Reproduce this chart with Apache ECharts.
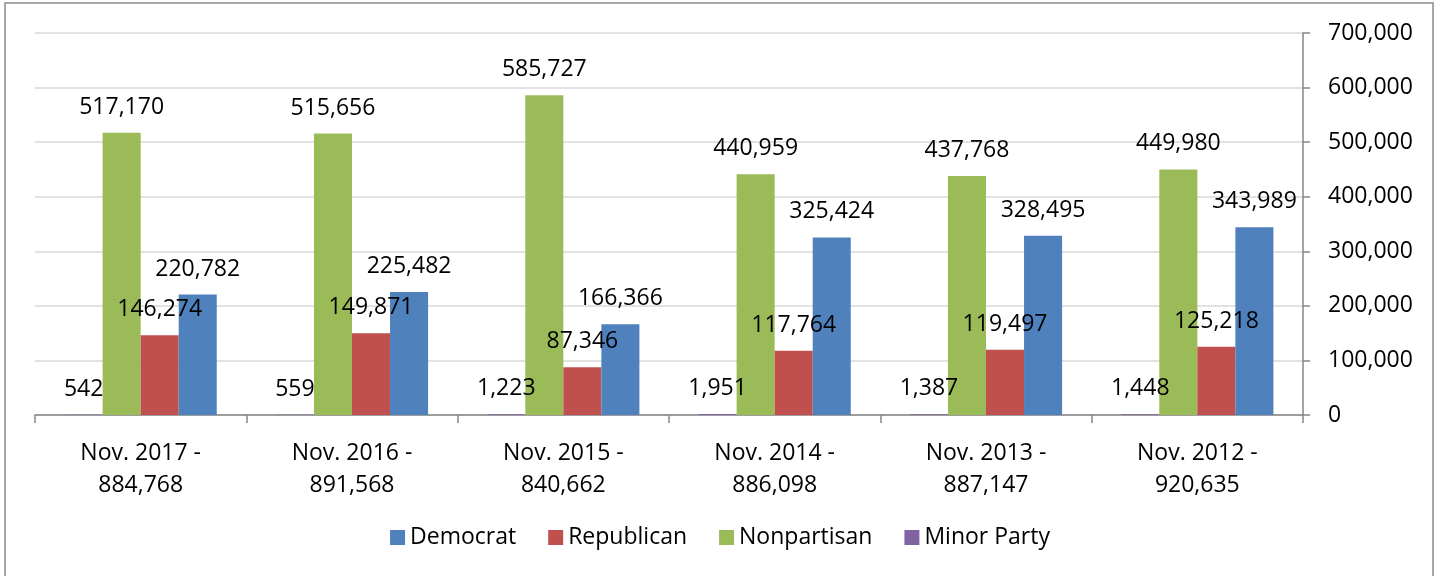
<!DOCTYPE html>
<html>
<head>
<meta charset="utf-8">
<script src="https://cdn.jsdelivr.net/npm/echarts@6/dist/echarts.min.js"></script>
<style>
  html, body { margin: 0; padding: 0; background: #fff; }
  #chart { width: 1440px; height: 576px; }
</style>
</head>
<body>
<div id="chart"></div>
<script>
// 数据
const periods = ['Nov. 2017', 'Nov. 2016', 'Nov. 2015', 'Nov. 2014', 'Nov. 2013', 'Nov. 2012']
const totals = ['884,768', '891,568', '840,662', '886,098', '887,147', '920,635']
const minorParty = [542, 559, 1223, 1951, 1387, 1448]
const nonpartisan = [517170, 515656, 585727, 440959, 437768, 449980]
const republican = [146274, 149871, 87346, 117764, 119497, 125218]
const democrat = [220782, 225482, 166366, 325424, 328495, 343989]
const yTicks = [0, 100000, 200000, 300000, 400000, 500000, 600000, 700000]

const categories = periods.map((p, i) => p + ' -\n' + totals[i])
const fmt = v => v.toLocaleString('en-US')
const font = '"Open Sans", sans-serif'

const chart = echarts.init(document.getElementById('chart'))

// 每个系列的公共配置
function bar(name, data, color) {
    return {
        name: name,
        type: 'bar',
        data: data,
        barGap: '0%',
        barCategoryGap: '28%',
        itemStyle: { color: color },
        label: {
            show: true,
            position: 'top',
            distance: 14,
            color: '#000',
            fontFamily: font,
            fontSize: 23,
            formatter: p => fmt(p.value)
        }
    }
}

chart.setOption({
    animation: false,
    textStyle: { fontFamily: font },
    grid: { left: 35, right: 137, top: 33, bottom: 161 },
    legend: {
        data: ['Democrat', 'Republican', 'Nonpartisan', 'Minor Party'],
        bottom: 22,
        left: 'center',
        itemWidth: 15,
        itemHeight: 15,
        itemGap: 32,
        icon: 'rect',
        textStyle: { fontFamily: font, fontSize: 23, color: '#000' }
    },
    xAxis: {
        type: 'category',
        data: categories,
        axisLine: { lineStyle: { color: '#868686', width: 1.5 } },
        axisTick: { show: true, length: 8, lineStyle: { color: '#868686', width: 1.5 } },
        axisLabel: {
            color: '#000',
            fontFamily: font,
            fontSize: 23,
            lineHeight: 32,
            margin: 22
        }
    },
    yAxis: {
        type: 'value',
        position: 'right',
        min: yTicks[0],
        max: yTicks[yTicks.length - 1],
        interval: yTicks[1] - yTicks[0],
        axisLine: { show: true, lineStyle: { color: '#868686', width: 1.5 } },
        axisTick: { show: true, length: 7, lineStyle: { color: '#868686', width: 1.5 } },
        splitLine: { lineStyle: { color: '#d9d9d9', width: 1.5 } },
        axisLabel: {
            color: '#000',
            fontFamily: font,
            fontSize: 23,
            margin: 25,
            formatter: v => fmt(v)
        }
    },
    graphic: [{
        type: 'rect',
        shape: { x: 5, y: 3, width: 1428, height: 620 },
        style: { fill: 'none', stroke: '#8c8c8c', lineWidth: 1.5 },
        silent: true
    }],
    series: [
        bar('Minor Party', minorParty, '#8064a2'),
        bar('Nonpartisan', nonpartisan, '#9bbb59'),
        bar('Republican', republican, '#c0504d'),
        bar('Democrat', democrat, '#4f81bd')
    ]
})
</script>
</body>
</html>
